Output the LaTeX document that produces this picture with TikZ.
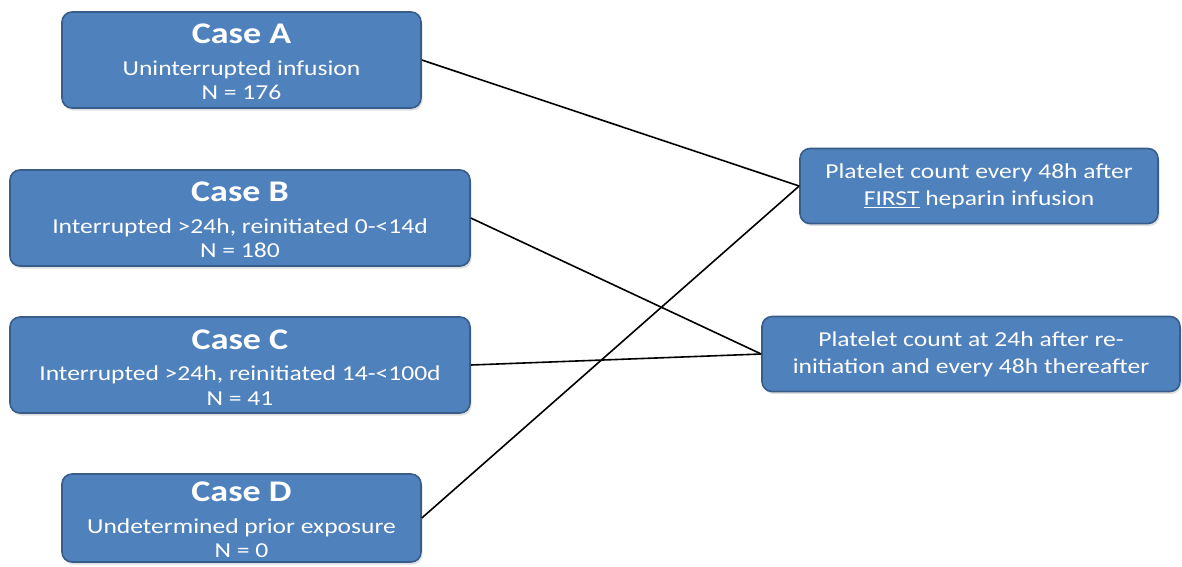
\documentclass[tikz,border=0pt]{standalone}
\usepackage{fontspec}
\setmainfont[FakeStretch=1.2]{Carlito}
\usetikzlibrary{shadows}
\definecolor{boxblue}{HTML}{4F81BD}
\definecolor{boxedge}{HTML}{385D8A}
\newcommand{\casetitle}[1]{{\fontsize{30}{24}\selectfont\bfseries\rule{0pt}{24pt}#1}}
\tikzset{
  casebox/.style={draw=boxedge, line width=1.6pt, fill=boxblue, rounded corners=10pt,
    text=white, align=center, inner sep=0pt, anchor=center,
    font=\fontsize{21.3}{24.5}\selectfont,
    drop shadow={opacity=0.25, shadow xshift=1.5pt, shadow yshift=-2.5pt}},
  resultbox/.style={casebox, font=\fontsize{21.3}{27}\selectfont},
  link/.style={draw=black, line width=1.6pt}
}
\begin{document}
\begin{tikzpicture}[x=1pt,y=-1pt]
\useasboundingbox[fill=white] (0,0) rectangle (1182,566);
\node[casebox, minimum width=359pt, minimum height=96pt] (A) at (241.5,60)
  {\casetitle{Case A}\\[7pt]Uninterrupted infusion\\N = 176};
\node[casebox, minimum width=460pt, minimum height=96pt] (B) at (240,218)
  {\casetitle{Case B}\\[7pt]Interrupted >24h, reinitiated 0-<14d\\N = 180};
\node[casebox, minimum width=460pt, minimum height=96pt] (C) at (240,365)
  {\casetitle{Case C}\\[7pt]Interrupted >24h, reinitiated 14-<100d\\N = 41};
\node[casebox, minimum width=359pt, minimum height=88pt] (D) at (241.5,518)
  {\casetitle{Case D}\\[7pt]Undetermined prior exposure\\N = 0};
\node[resultbox, minimum width=358pt, minimum height=75pt] (P1) at (979,186)
  {Platelet count every 48h after\\\underline{FIRST} heparin infusion};
\node[resultbox, minimum width=418pt, minimum height=75pt] (P2) at (971,354)
  {Platelet count at 24h after re-\\initiation and every 48h thereafter};
\draw[link] (A.east) -- (P1.west);
\draw[link] (D.east) -- (P1.west);
\draw[link] (B.east) -- (P2.west);
\draw[link] (C.east) -- (P2.west);
\end{tikzpicture}
\end{document}
